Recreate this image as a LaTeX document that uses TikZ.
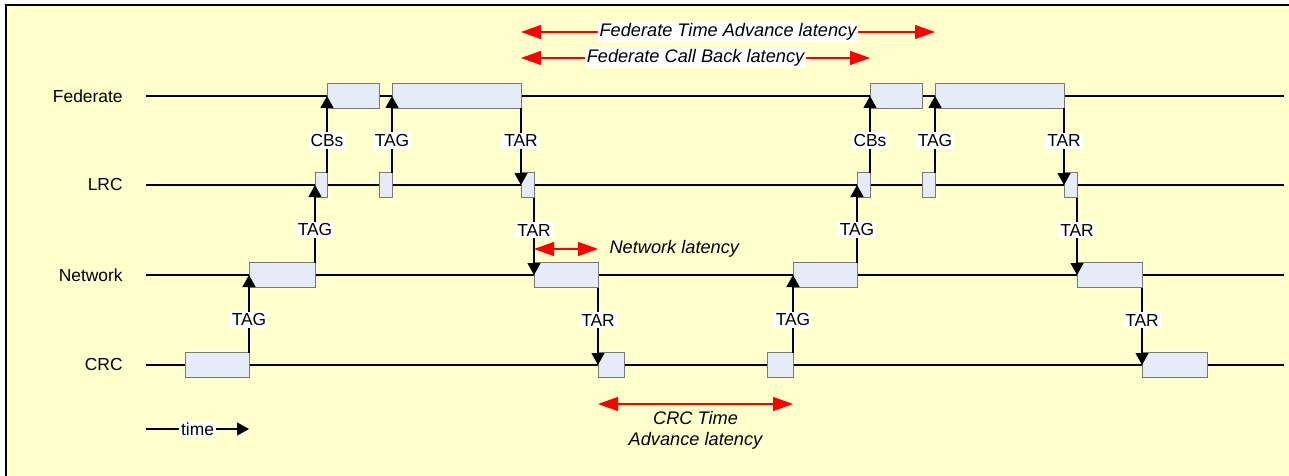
\documentclass[tikz,border=0pt]{standalone}
\usepackage{fontspec}
\setmainfont{Liberation Sans}
\usetikzlibrary{arrows.meta}
\definecolor{paper}{RGB}{255,255,204}
\definecolor{boxfill}{RGB}{229,236,248}
\definecolor{boxline}{RGB}{120,120,120}
\tikzset{
  lane/.style={line width=1pt},
  lanelbl/.style={anchor=east, inner sep=0pt},
  blk/.style={draw=boxline, fill=boxfill, line width=0.5pt, minimum height=12.5pt, inner sep=0pt, outer sep=0pt},
  msg/.style={-{Triangle[length=6pt,width=6.5pt]}, line width=0.6pt},
  lat/.style={{Triangle[length=10pt,width=7pt]}-{Triangle[length=10pt,width=7pt]}, red, line width=0.6pt},
  tag/.style={fill=white, inner sep=1pt, pos=0.42},
  latlbl/.style={font=\fontsize{9.1}{10.5}\selectfont\itshape, text=black, inner sep=1pt}
}
\begin{document}
\begin{tikzpicture}[x=0.5pt,y=-0.5pt,font=\fontsize{8.7}{10.5}\selectfont]
\useasboundingbox (0,0) rectangle (1289,476);
\fill[white] (0,0) rectangle (1289,476);
\fill[paper] (6,5) rectangle (1289,476);
\draw[line width=1pt] (6,476) -- (6,5) -- (1289,5);
% lanes
\node[lanelbl] at(123,96)(fedlbl){Federate};
\node[lanelbl] at(123,185)(lrclbl){LRC};
\node[lanelbl] at(123,275)(netlbl){Network};
\node[lanelbl] at(123,365)(crclbl){CRC};
\draw[lane] (146,96) -- (1284,96);
\draw[lane] (146,185) -- (1284,185);
\draw[lane] (146,275) -- (1284,275);
\draw[lane] (146,365) -- (1284,365);
% busy periods
\node[blk, minimum width=32pt] at(217,365)(c1){};
\node[blk, minimum width=33pt] at(282,275)(n1){};
\node[blk, minimum width=6pt] at(321,185)(l1){};
\node[blk, minimum width=26pt] at(353,96)(f1){};
\node[blk, minimum width=6.5pt] at(385.5,185)(l2){};
\node[blk, minimum width=64.5pt] at(456.5,96)(f2){};
\node[blk, minimum width=6.5pt] at(527.5,185)(l3){};
\node[blk, minimum width=32pt] at(566,275)(n2){};
\node[blk, minimum width=13pt] at(611,365)(c2){};
\node[blk, minimum width=13pt] at(780,365)(c3){};
\node[blk, minimum width=32pt] at(825,275)(n3){};
\node[blk, minimum width=6.5pt] at(863.5,185)(l4){};
\node[blk, minimum width=26pt] at(896,96)(f3){};
\node[blk, minimum width=6.5pt] at(928.5,185)(l5){};
\node[blk, minimum width=64.5pt] at(999.5,96)(f4){};
\node[blk, minimum width=6.5pt] at(1070.5,185)(l6){};
\node[blk, minimum width=32.5pt] at(1109.5,275)(n4){};
\node[blk, minimum width=32.5pt] at(1174.5,365)(c4){};
% messages
\path[msg]
    (c1.north east) edge node[tag]{TAG} (n1.west)
    (n1.north east) edge node[tag]{TAG} (l1.west)
    (l1.north east) edge node[tag]{CBs} (f1.west)
    (l2.north east) edge node[tag]{TAG} (f2.west)
    (f2.south east) edge node[tag]{TAR} (l3.west)
    (l3.south east) edge node[tag]{TAR} (n2.west)
    (n2.south east) edge node[tag]{TAR} (c2.west)
    (c3.north east) edge node[tag]{TAG} (n3.west)
    (n3.north east) edge node[tag]{TAG} (l4.west)
    (l4.north east) edge node[tag]{CBs} (f3.west)
    (l5.north east) edge node[tag]{TAG} (f4.west)
    (f4.south east) edge node[tag]{TAR} (l6.west)
    (l6.south east) edge node[tag]{TAR} (n4.west)
    (n4.south east) edge node[tag]{TAR} (c4.west);
% latencies
\coordinate (ftaY) at(0,32);
\coordinate (fcbY) at(0,58);
\coordinate (netY) at(0,249);
\coordinate (crcY) at(0,404);
\path[lat] (f2.north east |- ftaY) edge node[latlbl, fill=white]{Federate Time Advance latency} (f4.north west |- ftaY);
\path[lat] (f2.north east |- fcbY) edge node[latlbl, fill=white]{Federate Call Back latency} (f3.north west |- fcbY);
\path[lat] (n2.north west |- netY) edge node[latlbl, pos=1, anchor=west, xshift=4.5pt]{Network latency} (n2.north east |- netY);
\path[lat] (c2.south west |- crcY) edge node[latlbl, below, align=center, yshift=-2.5pt]{CRC Time\\Advance latency} (c3.south east |- crcY);
% time axis
\coordinate (t0) at(146,429);
\coordinate (t1) at(249,429);
\path[msg] (t0) edge node[fill=white, inner sep=1pt]{time} (t1);
\end{tikzpicture}
\end{document}
